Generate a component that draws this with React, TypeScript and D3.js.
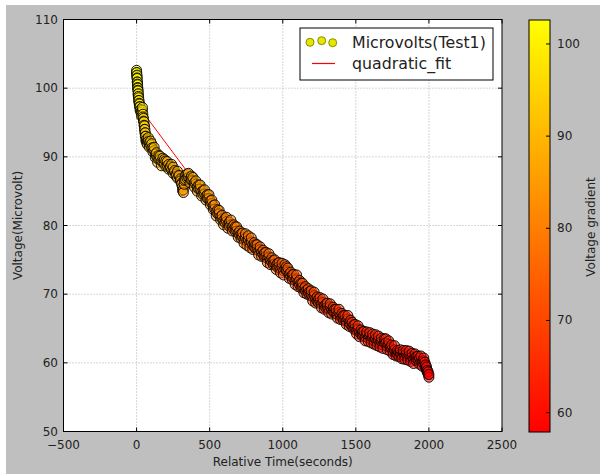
import React from "react";
import * as d3 from "d3";

const times: number[] = [
  0, 1, 3, 4, 6, 7, 9, 10, 12, 14, 17, 20, 24, 29, 34, 40, 43, 47, 51, 54, 57, 60, 63, 68, 73,
  80, 88, 96, 104, 112, 120, 128, 136, 144, 152, 160, 170, 180, 190, 200, 210, 220, 230, 240, 250, 260, 270, 280, 290, 300, 308, 314, 320, 326,
  335, 345, 355, 365, 375, 385, 395, 405, 415, 425, 435, 445, 455, 465, 475, 485, 495, 505, 515, 525, 535, 545, 555, 565, 575, 585, 595, 605, 615, 625, 635, 645, 655, 665, 675, 685, 695,
  705, 715, 725, 735, 745, 755, 765, 775, 785, 795, 805, 815, 825, 835, 845, 855, 865, 875, 885, 895, 905, 915, 925, 935, 945, 955, 965, 975, 985, 995, 1005, 1015, 1025, 1035,
  1045, 1055, 1065, 1075, 1085, 1095, 1105, 1115, 1125, 1135, 1145, 1155, 1165, 1175, 1185, 1195, 1205, 1215, 1225, 1235, 1245, 1255, 1265, 1275, 1285, 1295, 1305, 1315, 1325, 1335, 1345, 1355, 1365, 1375, 1385, 1395, 1405, 1415, 1425, 1435, 1445, 1455, 1465, 1475, 1485, 1495,
  1505, 1515, 1525, 1535, 1545, 1555, 1565, 1575, 1585, 1595, 1605, 1615, 1625, 1635, 1645, 1655, 1665, 1675, 1685, 1695, 1705, 1715, 1725, 1735, 1745, 1755, 1765, 1775, 1785, 1795, 1805, 1815, 1825, 1835, 1845, 1855, 1865, 1875, 1885, 1895, 1905, 1915, 1925, 1935, 1945, 1955, 1965, 1972, 1978, 1984, 1990, 1995, 2000,
];

const microvolts: number[] = [
  102.6, 102.3, 101.9, 101.4, 100.9, 100.5, 100.0, 99.6, 99.2, 98.6, 98.2, 97.7, 97.3, 96.9, 96.5, 96.8, 96.2, 95.6, 95.1, 94.5, 94.0, 93.5, 93.0, 92.6, 92.3,
  92.8, 92.0, 91.7, 91.9, 91.2, 90.9, 90.4, 90.1, 89.8, 90.2, 89.6, 89.3, 89.8, 89.0, 89.4, 88.7, 88.9, 88.4, 88.1, 88.5, 87.8, 87.5, 87.9, 87.2, 86.8, 86.2, 85.6, 85.2, 86.0,
  87.3, 87.5, 87.0, 86.8, 87.2, 86.5, 86.2, 86.0, 85.6, 85.9, 85.3, 84.9, 85.1, 84.6, 84.3, 84.5, 83.9, 83.6, 83.2, 82.9, 82.4, 82.0, 82.3, 81.7, 81.3, 81.0, 80.7, 81.0, 80.6, 80.2, 80.5, 80.1, 79.8, 79.5, 79.8, 79.2, 78.9,
  78.6, 78.8, 78.3, 78.0, 78.2, 77.7, 77.9, 77.4, 77.6, 77.1, 76.9, 77.2, 76.6, 76.3, 76.5, 76.1, 75.8, 76.0, 75.5, 75.2, 75.4, 74.9, 74.7, 74.9, 74.4, 74.2, 74.5, 74.0, 73.7, 73.9, 73.4, 73.7, 74.0, 73.2,
  72.9, 72.6, 72.8, 72.3, 72.0, 72.2, 71.7, 71.4, 71.6, 71.0, 70.8, 70.5, 70.6, 70.2, 70.4, 69.9, 69.6, 69.8, 69.3, 69.0, 69.3, 68.9, 68.6, 68.8, 68.3, 68.6, 68.1, 67.9, 68.2, 67.7, 67.5, 67.8, 67.2, 67.0, 67.3, 66.8, 66.6, 66.9, 66.3, 66.1, 66.4, 65.8, 65.6, 65.3, 65.5, 65.0,
  64.7, 64.9, 64.4, 64.2, 64.5, 64.0, 63.8, 64.1, 63.6, 63.9, 63.4, 63.7, 63.2, 63.5, 63.0, 63.3, 62.8, 63.1, 62.6, 62.9, 63.5, 62.4, 62.7, 62.2, 62.0, 61.7, 61.9, 61.4, 61.2, 61.5, 61.3, 61.1, 61.4, 61.0, 61.3, 60.9, 61.1, 60.7, 60.9, 60.5, 60.8, 60.9, 60.4, 60.7, 60.2, 60.1, 60.3, 59.6, 59.2, 58.9, 58.6, 58.3, 57.9,
];

const microvoltsRepeat: number[] = [
  102.2, 101.8, 101.5, 100.9, 100.6, 100.1, 99.7, 99.1, 98.8, 98.2, 97.8, 97.3, 96.8, 96.5, 95.9, 97.2, 95.8, 95.2, 94.6, 94.0, 93.5, 93.0, 92.4, 92.1, 91.8,
  92.2, 91.4, 92.3, 91.3, 90.7, 91.4, 89.9, 90.6, 89.2, 89.6, 90.1, 88.7, 89.2, 89.6, 88.6, 89.3, 88.2, 88.6, 88.9, 87.6, 88.0, 87.2, 86.9, 87.3, 86.5, 86.0, 85.1, 84.8, 86.6,
  86.7, 86.9, 87.6, 86.2, 86.6, 87.0, 85.6, 86.5, 85.0, 85.3, 85.9, 84.3, 84.5, 85.2, 83.7, 83.9, 84.5, 83.0, 83.7, 82.3, 83.0, 81.4, 81.7, 82.2, 80.8, 81.5, 80.1, 80.4, 81.2, 79.6, 79.9, 80.8, 79.2, 80.1, 79.1, 79.8, 78.3,
  79.2, 78.1, 78.9, 77.4, 78.8, 77.1, 78.5, 76.8, 78.2, 76.5, 77.5, 76.6, 77.2, 75.7, 76.9, 75.5, 76.4, 75.4, 76.1, 74.6, 75.9, 74.3, 75.3, 74.3, 75.0, 73.6, 73.9, 74.6, 73.1, 74.5, 72.8, 74.3, 73.4, 73.8,
  72.3, 73.2, 72.1, 72.9, 71.4, 72.8, 71.1, 72.0, 70.9, 71.6, 70.2, 71.1, 70.0, 70.8, 69.8, 70.5, 69.0, 70.3, 68.7, 69.6, 68.7, 69.5, 68.0, 69.3, 67.8, 68.0, 68.7, 67.3, 68.6, 67.1, 68.1, 67.2, 67.8, 66.5, 67.8, 66.3, 67.2, 66.2, 66.9, 65.6, 66.9, 65.3, 66.2, 65.9, 64.9, 65.6,
  64.2, 65.4, 63.8, 64.8, 63.9, 64.6, 63.2, 64.5, 63.1, 64.4, 62.9, 64.2, 62.7, 64.1, 62.5, 63.9, 62.3, 63.6, 62.1, 63.5, 62.9, 61.9, 63.2, 61.7, 62.6, 61.2, 62.5, 61.0, 61.8, 60.9, 61.9, 60.6, 61.8, 60.5, 61.8, 60.4, 61.7, 60.2, 61.4, 59.9, 61.3, 60.3, 61.0, 59.8, 61.0, 59.5, 60.7, 60.1, 59.7, 59.4, 58.9, 58.7, 58.3,
];

const fitTimes: number[] = [75, 355, 500, 700, 900, 1100, 1300, 1500, 1700, 1900, 2000];
const fitValues: number[] = [95.6, 87.6, 84.2, 79.4, 75.6, 72.2, 68.7, 65.6, 62.9, 60.6, 59.4];

const xTicks: number[] = [-500, 0, 500, 1000, 1500, 2000, 2500];
const yTicks: number[] = [50, 60, 70, 80, 90, 100, 110];
const cbTicks: number[] = [60, 70, 80, 90, 100];

const W = 600;
const H = 474;
const FONT = "DejaVu Sans, sans-serif";

export default function App() {
  const left = 63.5, right = 502, top = 19.5, bottom = 431.5;
  const x = d3.scaleLinear().domain([-500, 2500]).range([left, right]);
  const y = d3.scaleLinear().domain([50, 110]).range([bottom, top]);

  const all = microvolts.concat(microvoltsRepeat);
  const ext = d3.extent(all) as [number, number];
  const color = (v: number) => {
    const t = Math.max(0, Math.min(1, (v - ext[0]) / (ext[1] - ext[0])));
    return d3.rgb(255, Math.round(255 * t), 0).toString();
  };

  const cbLeft = 529, cbRight = 550, cbTop = 20, cbBottom = 432;
  const cy = d3.scaleLinear().domain(ext).range([cbBottom, cbTop]);

  const pts: { t: number; v: number }[] = [];
  times.forEach((t, i) => {
    pts.push({ t, v: microvolts[i] });
    pts.push({ t, v: microvoltsRepeat[i] });
  });
  const fitLine = d3
    .line<number>()
    .x((_, i) => x(fitTimes[i]))
    .y((d) => y(d))(fitValues) as string;

  return (
    <svg width={W} height={H} style={{ position: "absolute", left: 0, top: 0 }} fontFamily={FONT}>
      <defs>
        <linearGradient id="autumn" x1="0" y1="1" x2="0" y2="0">
          <stop offset="0%" stopColor="rgb(255,0,0)" />
          <stop offset="100%" stopColor="rgb(255,255,0)" />
        </linearGradient>
        <clipPath id="plotclip">
          <rect x={left} y={top} width={right - left} height={bottom - top} />
        </clipPath>
      </defs>
      <rect x={0} y={0} width={W} height={H} fill="#ffffff" />
      <rect x={6} y={5} width={W - 6} height={H - 5} fill="#bfbfbf" />
      <rect x={left} y={top} width={right - left} height={bottom - top} fill="#ffffff" />

      {/* grid */}
      {xTicks.slice(1, -1).map((t) => (
        <line key={"gx" + t} x1={x(t)} x2={x(t)} y1={top} y2={bottom} stroke="#9a9a9a" strokeWidth={0.8} strokeDasharray="1,2" />
      ))}
      {yTicks.slice(1, -1).map((t) => (
        <line key={"gy" + t} x1={left} x2={right} y1={y(t)} y2={y(t)} stroke="#9a9a9a" strokeWidth={0.8} strokeDasharray="1,2" />
      ))}

      {/* data */}
      <g clipPath="url(#plotclip)">
        <path d={fitLine} fill="none" stroke="#ff0000" strokeWidth={1} />
        {pts.map((p, i) => (
          <circle
            key={i}
            cx={x(p.t)}
            cy={y(p.v)}
            r={5}
            fill={color(p.v)}
            fillOpacity={0.55}
            stroke="#000"
            strokeOpacity={0.9}
            strokeWidth={1}
          />
        ))}
      </g>

      {/* frame */}
      <rect x={left} y={top} width={right - left} height={bottom - top} fill="none" stroke="#000" strokeWidth={1} />

      {/* ticks */}
      {xTicks.map((t) => (
        <g key={"xt" + t}>
          <line x1={x(t)} x2={x(t)} y1={bottom} y2={bottom - 4} stroke="#000" />
          <line x1={x(t)} x2={x(t)} y1={top} y2={top + 4} stroke="#000" />
          <text x={x(t)} y={449} textAnchor="middle" fontSize={12} fill="#222">
            {t < 0 ? "\u2212" + Math.abs(t) : t}
          </text>
        </g>
      ))}
      {yTicks.map((t) => (
        <g key={"yt" + t}>
          <line x1={left} x2={left + 4} y1={y(t)} y2={y(t)} stroke="#000" />
          <line x1={right} x2={right - 4} y1={y(t)} y2={y(t)} stroke="#000" />
          <text x={58} y={y(t) + 4} textAnchor="end" fontSize={12} fill="#222">
            {t}
          </text>
        </g>
      ))}

      <text x={(left + right) / 2} y={466} textAnchor="middle" fontSize={12} fill="#222">
        Relative Time(seconds)
      </text>
      <text transform={`translate(22,${(top + bottom) / 2}) rotate(-90)`} textAnchor="middle" fontSize={12} fill="#222">
        Voltage(Microvolt)
      </text>

      {/* legend */}
      <rect x={300} y={28} width={193} height={52} fill="#ffffff" stroke="#000" strokeWidth={1} />
      {[
        { cx: 310, cy: 42.3 },
        { cx: 321.7, cy: 40.7 },
        { cx: 332.7, cy: 42.7 },
      ].map((m, i) => (
        <circle key={"lm" + i} cx={m.cx} cy={m.cy} r={4} fill="#e6e600" stroke="#8a8a00" strokeWidth={1} />
      ))}
      <text x={352} y={48} fontSize={15.8} fill="#222">
        Microvolts(Test1)
      </text>
      <line x1={312} x2={335} y1={63.5} y2={63.5} stroke="#ff0000" strokeWidth={1.2} />
      <text x={352} y={69} fontSize={15.8} fill="#222">
        quadratic_fit
      </text>

      {/* colorbar */}
      <rect x={cbLeft} y={cbTop} width={cbRight - cbLeft} height={cbBottom - cbTop} fill="url(#autumn)" stroke="#000" strokeWidth={1} />
      {cbTicks.map((t) => (
        <g key={"cb" + t}>
          <line x1={cbRight} x2={cbRight - 4} y1={cy(t)} y2={cy(t)} stroke="#000" />
          <text x={557} y={cy(t) + 4} fontSize={12} fill="#222">
            {t}
          </text>
        </g>
      ))}
      <text transform={`translate(595,227) rotate(-90)`} textAnchor="middle" fontSize={12} fill="#222">
        Voltage gradient
      </text>
    </svg>
  );
}
